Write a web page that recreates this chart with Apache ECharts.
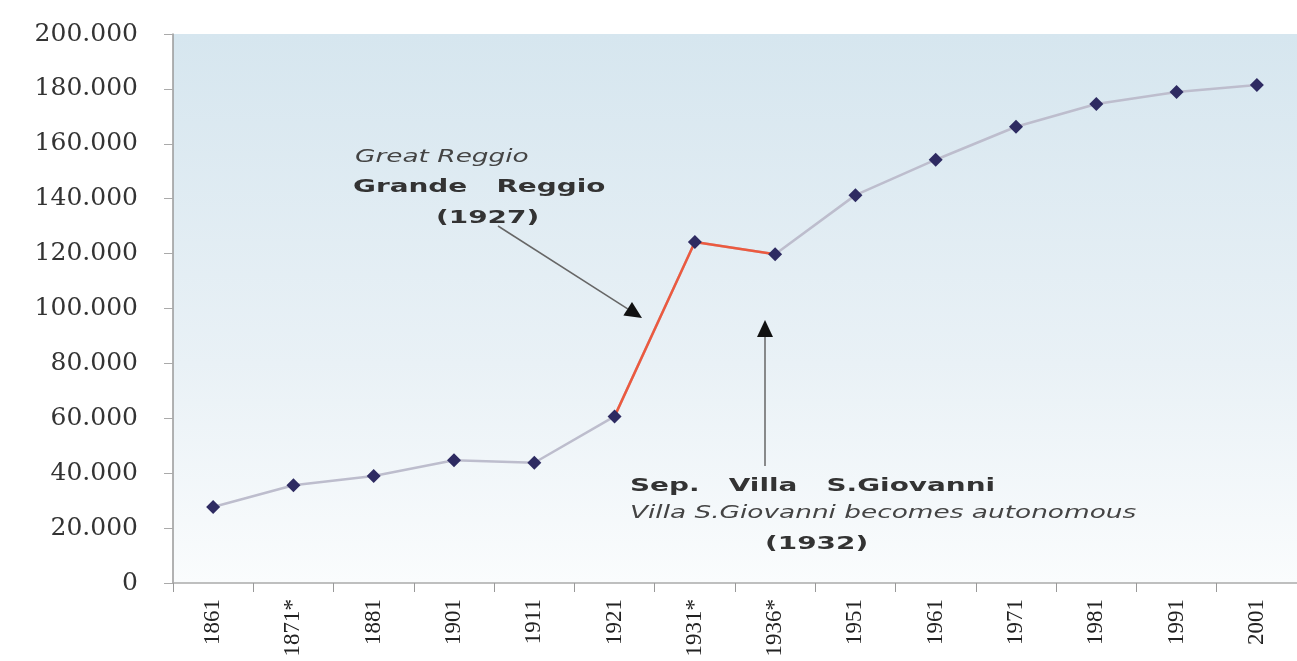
<!DOCTYPE html>
<html>
<head>
<meta charset="utf-8">
<script src="https://cdn.jsdelivr.net/npm/echarts@6/dist/echarts.min.js"></script>
<style>
  html, body { margin: 0; padding: 0; background: #fff; }
  #chart { width: 1297px; height: 661px; }
</style>
</head>
<body>
<div id="chart"></div>
<script>
// censimenti di Reggio Calabria
var years = ['1861', '1871*', '1881', '1901', '1911', '1921', '1931*', '1936*', '1951', '1961', '1971', '1981', '1991', '2001'];
var population = [27700, 35600, 39000, 44700, 43800, 60700, 124200, 119800, 141300, 154200, 166200, 174500, 178900, 181400];
// tratto evidenziato (1921 - 1936)
var jumpFrom = 5, jumpTo = 7;
var yTicks = { min: 0, max: 200000, step: 20000 };

var chart = echarts.init(document.getElementById('chart'));

var jumpData = population.map(function (v, i) {
  return (i >= jumpFrom && i <= jumpTo) ? v : '-';
});

function dotted(v) {
  return String(v).replace(/\B(?=(\d{3})+(?!\d))/g, '.');
}

function arrow(x1, y1, x2, y2) {
  var a = Math.atan2(y2 - y1, x2 - x1);
  var L = 17, W = 8;
  var bx = x2 - L * Math.cos(a), by = y2 - L * Math.sin(a);
  return [
    { type: 'line', shape: { x1: x1, y1: y1, x2: bx, y2: by }, style: { stroke: '#666', lineWidth: 1.5 } },
    { type: 'polygon', shape: { points: [[x2, y2], [bx + W * Math.sin(a), by - W * Math.cos(a)], [bx - W * Math.sin(a), by + W * Math.cos(a)]] }, style: { fill: '#111' } }
  ];
}

// testo allargato come nell'originale
var txtFont = '"DejaVu Sans", Verdana, sans-serif';
function label(x, y, text, font, fill) {
  return { type: 'text', x: x, y: y, scaleX: 1.55, style: { text: text, font: font + ' ' + txtFont, fill: fill, verticalAlign: 'middle' } };
}

var option = {
  backgroundColor: '#fff',
  animation: false,
  grid: {
    left: 173, right: -5, top: 34, bottom: 78,
    show: true,
    borderWidth: 0,
    backgroundColor: new echarts.graphic.LinearGradient(0, 0, 0, 1, [
      { offset: 0, color: '#d6e6ef' },
      { offset: 0.6, color: '#e9f1f6' },
      { offset: 1, color: '#fafcfd' }
    ])
  },
  xAxis: {
    type: 'category',
    data: years,
    boundaryGap: true,
    axisLine: { lineStyle: { color: '#aaa', width: 1.5 } },
    axisTick: { show: true, length: 9, lineStyle: { color: '#999' } },
    axisLabel: {
      rotate: 90, margin: 16, color: '#222',
      fontFamily: '"Liberation Serif", "DejaVu Serif", serif', fontSize: 23
    }
  },
  yAxis: {
    type: 'value',
    min: yTicks.min, max: yTicks.max, interval: yTicks.step,
    splitLine: { show: false },
    axisLine: { show: true, lineStyle: { color: '#999', width: 1.5 } },
    axisTick: { show: true, length: 9, lineStyle: { color: '#aaa' } },
    axisLabel: {
      margin: 35, color: '#333',
      fontFamily: '"DejaVu Serif", "Liberation Serif", serif', fontSize: 25,
      formatter: function (v) { return dotted(v); }
    }
  },
  series: [
    {
      name: 'base',
      type: 'line',
      data: population,
      showSymbol: false,
      lineStyle: { color: '#bdbdcd', width: 2.5 },
      z: 2
    },
    {
      name: 'jump',
      type: 'line',
      data: jumpData,
      showSymbol: false,
      lineStyle: { color: '#ec5a3f', width: 2.5 },
      z: 3
    },
    {
      name: 'points',
      type: 'line',
      data: population,
      symbol: 'diamond',
      symbolSize: 14,
      lineStyle: { opacity: 0 },
      itemStyle: { color: '#2e2b62' },
      z: 4
    }
  ],
  graphic: [
    label(355, 158, 'Great Reggio', 'italic 17px', '#444'),
    label(353, 187, 'Grande   Reggio', 'bold 18px', '#333'),
    label(436, 218, '(1927)', 'bold 18px', '#333'),
    label(630, 486, 'Sep.   Villa   S.Giovanni', 'bold 18px', '#333'),
    label(630, 514, 'Villa S.Giovanni becomes autonomous', 'italic 17px', '#444'),
    label(765, 544, '(1932)', 'bold 18px', '#333'),
    { type: 'group', children: arrow(498, 226, 642, 318) },
    { type: 'group', children: arrow(765, 466, 765, 320) }
  ]
};

chart.setOption(option);
</script>
</body>
</html>
